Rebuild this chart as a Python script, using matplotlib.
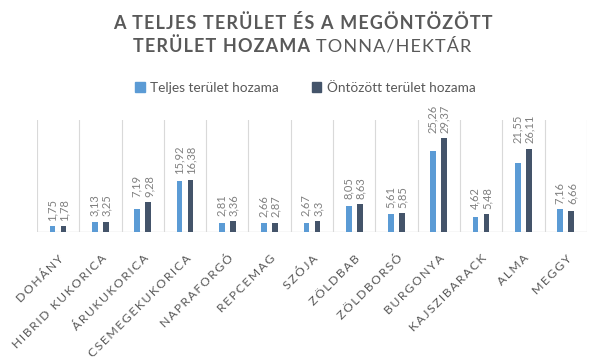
import numpy as np
import matplotlib
matplotlib.use("Agg")
import matplotlib.pyplot as plt
from matplotlib.patches import Patch

categories = ["DOHÁNY", "HIBRID KUKORICA", "ÁRUKUKORICA", "CSEMEGEKUKORICA",
              "NAPRAFORGÓ", "REPCEMAG", "SZÓJA", "ZÖLDBAB", "ZÖLDBORSÓ",
              "BURGONYA", "KAJSZIBARACK", "ALMA", "MEGGY"]
teljes = [1.75, 3.13, 7.19, 15.92, 2.81, 2.66, 2.67, 8.05, 5.61, 25.26, 4.62, 21.55, 7.16]
ontozott = [1.78, 3.25, 9.28, 16.38, 3.36, 2.87, 3.3, 8.63, 5.85, 29.37, 5.48, 26.11, 6.66]

c_light = "#5B9BD5"
c_dark = "#44546A"
grey = "#595959"


def fmt(v):
    s = ("%.2f" % v).rstrip("0").rstrip(".")
    return s.replace(".", ",")


def spaced(s, sep="\u200a"):
    # fake letter spacing
    return sep.join(s)


plt.rcParams['font.family'] = ['Lato', 'DejaVu Sans']

fig = plt.figure(figsize=(6.05, 3.63), dpi=100)
ax = fig.add_axes([0.061, 0.361, 0.909, 0.308])

x = np.arange(len(categories))
w = 0.135
off = 0.13
ax.bar(x - off, teljes, w, color=c_light, zorder=3)
ax.bar(x + off, ontozott, w, color=c_dark, zorder=3)

for i in range(len(categories)):
    top = max(teljes[i], ontozott[i])
    for dx, v in ((-0.145, teljes[i]), (0.145, ontozott[i])):
        ax.annotate(fmt(v), (x[i] + dx, top), xytext=(0, 4),
                    textcoords="offset points", rotation=90,
                    ha="center", va="bottom", fontsize=8,
                    color="#7F7F7F", annotation_clip=False)

ax.set_xlim(-0.5, len(categories) - 0.5)
ax.set_ylim(0, 35)
for b in np.arange(-0.5, len(categories), 1.0):
    ax.axvline(b, color="#D9D9D9", lw=0.8, zorder=1)
for s in ax.spines.values():
    s.set_visible(False)
ax.axhline(0, color="#D9D9D9", lw=1, zorder=2)
ax.set_yticks([])
ax.set_xticks(x)
ax.set_xticklabels([spaced(c, "\u2009") for c in categories], rotation=45,
                   ha="right", rotation_mode="anchor", fontsize=8.8, color=grey)
ax.tick_params(axis="x", length=0, pad=15)

fig.text(0.5, 0.937, spaced("A TELJES TERÜLET ÉS A MEGÖNTÖZÖTT"), ha="center",
         va="center", fontsize=13, fontweight="bold", color=grey)
fig.text(0.522, 0.873, spaced("TERÜLET HOZAMA "), ha="right", va="center",
         fontsize=13, fontweight="bold", color=grey)
fig.text(0.522, 0.873, spaced("TONNA/HEKTÁR"), ha="left", va="center",
         fontsize=13, color=grey)

handles = [Patch(color=c_light, label="Teljes terület hozama"),
           Patch(color=c_dark, label="Öntözött terület hozama")]
fig.legend(handles=handles, loc="center", bbox_to_anchor=(0.505, 0.758),
           ncol=2, frameon=False, fontsize=9.8, labelcolor=grey,
           handlelength=0.7, handleheight=0.7, handletextpad=0.4,
           columnspacing=2.4)

fig.savefig("out.png", dpi=100)
